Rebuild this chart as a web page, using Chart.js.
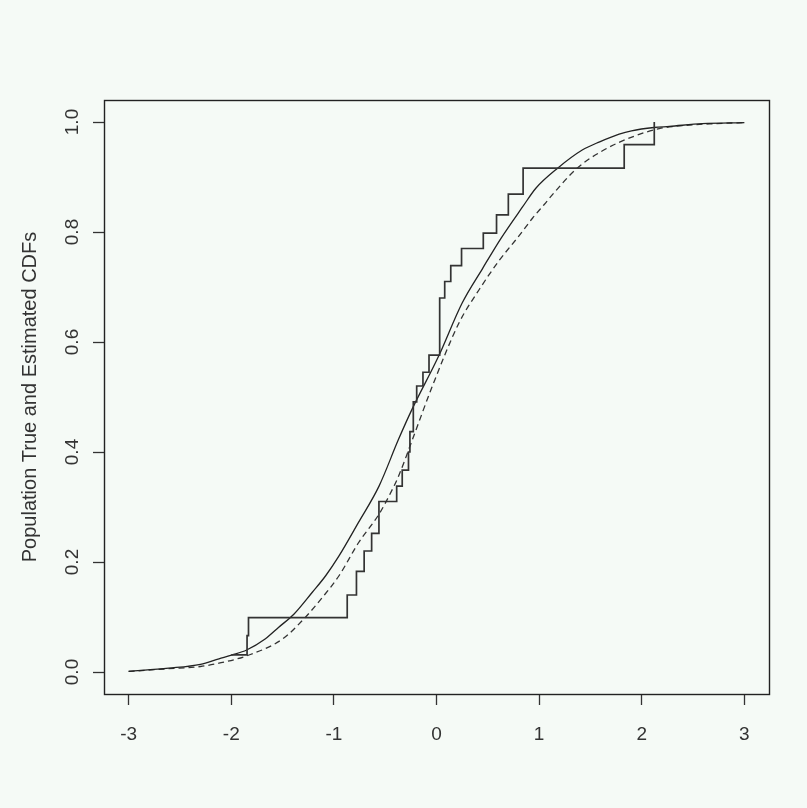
<!DOCTYPE html>
<html>
<head>
<meta charset="utf-8">
<script src="https://cdn.jsdelivr.net/npm/chart.js@4.4.1/dist/chart.umd.min.js"></script>
<style>
  html, body { margin: 0; padding: 0; background: #f5faf6; }
  #wrap { width: 807px; height: 808px; }
</style>
</head>
<body>
<div id="wrap"><canvas id="cdfChart" width="807" height="808"></canvas></div>
<script>
// tick labels
const xTicks = [-3, -2, -1, 0, 1, 2, 3];
const yTicks = [0, 0.2, 0.4, 0.6, 0.8, 1.0];

// population (true) CDF - solid line
const trueX = [-3.0, -2.61, -2.3, -2.12, -1.99, -1.85, -1.67, -1.54, -1.39, -1.21, -1.08, -0.95, -0.76, -0.56, -0.37, -0.24, 0.02, 0.25, 0.45, 0.63, 0.84, 0.97, 1.18, 1.42, 1.59, 1.78, 1.9, 2.12, 2.27, 2.59, 3.0];
const trueY = [0.001, 0.007, 0.014, 0.024, 0.031, 0.040, 0.060, 0.081, 0.105, 0.145, 0.175, 0.211, 0.272, 0.338, 0.423, 0.477, 0.574, 0.671, 0.734, 0.789, 0.846, 0.880, 0.916, 0.949, 0.964, 0.978, 0.984, 0.990, 0.992, 0.997, 0.999];

// smooth estimated CDF - dashed line
const estX = [-3.0, -2.61, -2.3, -2.12, -1.84, -1.5, -1.29, -1.11, -0.95, -0.76, -0.56, -0.43, -0.37, -0.22, -0.04, 0.22, 0.415, 0.61, 0.8, 0.935, 1.05, 1.13, 1.37, 1.63, 1.91, 2.17, 2.43, 2.71, 3.0];
const estY = [0.001, 0.006, 0.010, 0.016, 0.030, 0.060, 0.097, 0.136, 0.175, 0.235, 0.287, 0.332, 0.356, 0.430, 0.520, 0.635, 0.695, 0.748, 0.792, 0.825, 0.850, 0.868, 0.916, 0.949, 0.973, 0.988, 0.994, 0.997, 0.999];

// step (empirical) estimate
const stepX = [-2.0, -1.846, -1.832, -0.870, -0.780, -0.705, -0.632, -0.561, -0.388, -0.334, -0.273, -0.259, -0.226, -0.193, -0.132, -0.073, 0.031, 0.080, 0.139, 0.244, 0.456, 0.585, 0.700, 0.844, 1.829, 2.122];
const stepY = [0.031, 0.066, 0.099, 0.140, 0.183, 0.220, 0.252, 0.310, 0.338, 0.367, 0.400, 0.437, 0.491, 0.520, 0.545, 0.576, 0.680, 0.710, 0.739, 0.770, 0.798, 0.831, 0.869, 0.916, 0.959, 1.000];

const toPts = (xs, ys) => xs.map((x, i) => ({ x: x, y: ys[i] }));

// box around the plot region, like R's bty="o"
const boxPlugin = {
  id: 'box',
  afterDraw(chart) {
    const a = chart.chartArea;
    const c = chart.ctx;
    c.save();
    c.strokeStyle = '#222';
    c.lineWidth = 1.4;
    c.strokeRect(Math.round(a.left) + 0.5, Math.round(a.top) + 0.5, Math.round(a.right - a.left), Math.round(a.bottom - a.top));
    c.restore();
  }
};

const bgPlugin = {
  id: 'bg',
  beforeDraw(chart) {
    const c = chart.ctx;
    c.save();
    c.fillStyle = '#f5faf6';
    c.fillRect(0, 0, chart.width, chart.height);
    c.restore();
  }
};

const tickFont = { family: '"Liberation Sans", Arial, sans-serif', size: 19 };
const titleFont = { family: '"Liberation Sans", Arial, sans-serif', size: 20 };

new Chart(document.getElementById('cdfChart').getContext('2d'), {
  type: 'line',
  data: {
    datasets: [
      {
        label: 'Estimated (step)',
        data: toPts(stepX, stepY),
        borderColor: '#333',
        borderWidth: 1.7,
        stepped: true,
        pointRadius: 0,
        fill: false
      },
      {
        label: 'True',
        data: toPts(trueX, trueY),
        borderColor: '#222',
        borderWidth: 1.3,
        cubicInterpolationMode: 'monotone',
        pointRadius: 0,
        fill: false
      },
      {
        label: 'Estimated (smooth)',
        data: toPts(estX, estY),
        borderColor: '#333',
        borderWidth: 1.3,
        borderDash: [6, 4],
        cubicInterpolationMode: 'monotone',
        pointRadius: 0,
        fill: false
      }
    ]
  },
  options: {
    responsive: false,
    animation: false,
    layout: { padding: { top: 100, right: 38, left: 0, bottom: 0 } },
    plugins: {
      legend: { display: false },
      tooltip: { enabled: false }
    },
    scales: {
      x: {
        type: 'linear',
        min: -3.24,
        max: 3.24,
        afterBuildTicks: (s) => { s.ticks = xTicks.map(v => ({ value: v })); },
        afterFit: (s) => { s.height = 114; },
        border: { display: false },
        grid: {
          drawOnChartArea: false,
          drawTicks: true,
          tickLength: 11,
          tickColor: '#333',
          tickWidth: 1.3
        },
        ticks: {
          font: tickFont,
          color: '#333',
          padding: 18,
          maxRotation: 0,
          callback: (v) => String(v)
        }
      },
      y: {
        type: 'linear',
        min: -0.04,
        max: 1.04,
        afterBuildTicks: (s) => { s.ticks = yTicks.map(v => ({ value: v })); },
        afterFit: (s) => { s.width = 104; },
        border: { display: false },
        grid: {
          drawOnChartArea: false,
          drawTicks: true,
          tickLength: 11,
          tickColor: '#333',
          tickWidth: 1.3
        },
        ticks: {
          font: tickFont,
          color: '#333',
          padding: 7,
          minRotation: 90,
          maxRotation: 90,
          crossAlign: 'center',
          callback: (v) => v.toFixed(1)
        },
        title: {
          display: true,
          text: 'Population True and Estimated CDFs',
          font: titleFont,
          color: '#333',
          padding: { top: 18, bottom: 0 }
        }
      }
    }
  },
  plugins: [bgPlugin, boxPlugin]
});
</script>
</body>
</html>
